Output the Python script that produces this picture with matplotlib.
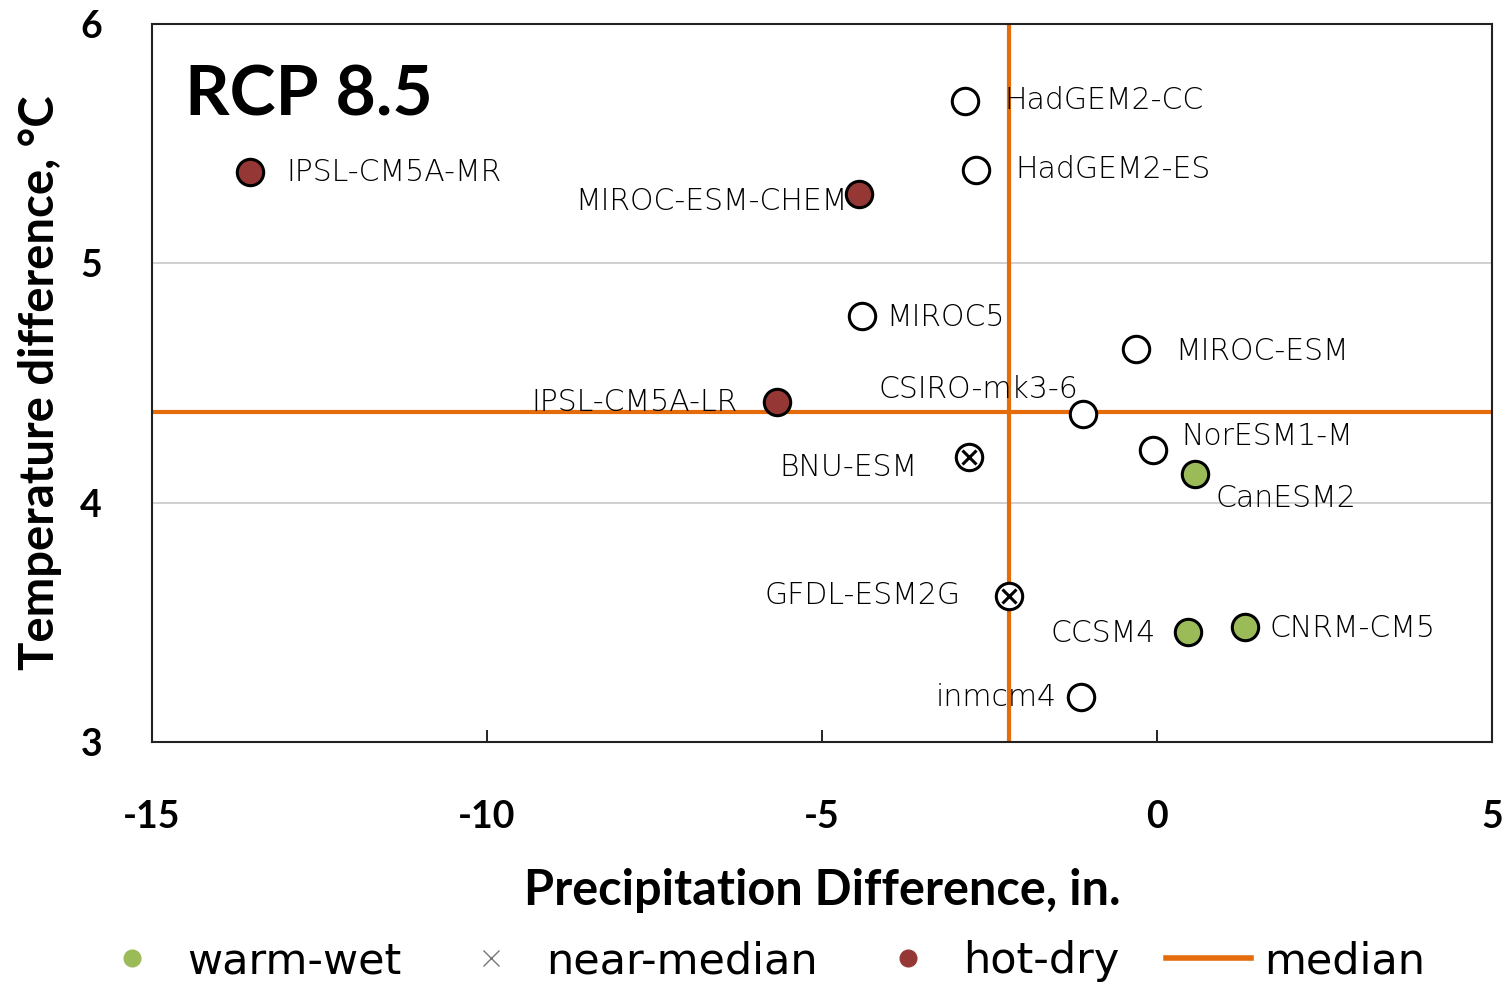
import matplotlib
matplotlib.use("Agg")
import matplotlib.pyplot as plt
from matplotlib.lines import Line2D

plt.rcParams['font.family'] = ['Lato', 'DejaVu Sans']

# model results: precipitation change (in.) and temperature change (degC)
models = ['IPSL-CM5A-MR', 'MIROC-ESM-CHEM', 'HadGEM2-CC', 'HadGEM2-ES', 'MIROC5',
          'MIROC-ESM', 'IPSL-CM5A-LR', 'CSIRO-mk3-6', 'NorESM1-M', 'CanESM2',
          'BNU-ESM', 'GFDL-ESM2G', 'CCSM4', 'CNRM-CM5', 'inmcm4']
precip = [-13.54, -4.45, -2.87, -2.70, -4.40, -0.31, -5.67, -1.10, -0.06, 0.57,
          -2.81, -2.21, 0.46, 1.31, -1.13]
temp = [5.38, 5.29, 5.68, 5.39, 4.78, 4.64, 4.42, 4.37, 4.22, 4.12,
        4.19, 3.61, 3.46, 3.48, 3.19]
group = ['hot-dry', 'hot-dry', 'other', 'other', 'other',
         'other', 'hot-dry', 'other', 'other', 'warm-wet',
         'near-median', 'near-median', 'warm-wet', 'warm-wet', 'other']
median_precip = -2.21
median_temp = 4.38

# label placement in pixels relative to each point: (dx, dy, ha)
label_pos = {
    'IPSL-CM5A-MR': (37, 0, 'left'),
    'MIROC-ESM-CHEM': (-11, -8, 'right'),
    'HadGEM2-CC': (40, 0, 'left'),
    'HadGEM2-ES': (39, 0, 'left'),
    'MIROC5': (24, -2, 'left'),
    'MIROC-ESM': (39, -2, 'left'),
    'IPSL-CM5A-LR': (-39, 0, 'right'),
    'CSIRO-mk3-6': (-5, 25, 'right'),
    'NorESM1-M': (28, 14, 'left'),
    'CanESM2': (20, -25, 'left'),
    'BNU-ESM': (-51, -10, 'right'),
    'GFDL-ESM2G': (-48, 0, 'right'),
    'CCSM4': (-32, -2, 'right'),
    'CNRM-CM5': (25, -1, 'left'),
    'inmcm4': (-25, -1, 'right'),
}

green = '#9BBB59'
red = '#953735'
orange = '#E46C0A'
face = {'hot-dry': red, 'warm-wet': green, 'other': 'white', 'near-median': 'white'}

fig = plt.figure(figsize=(15.09, 9.88), dpi=100)
ax = fig.add_axes([0.1007, 0.249, 0.888, 0.7267])

ax.axvline(median_precip, color=orange, lw=3, zorder=2)
ax.axhline(median_temp, color=orange, lw=3, zorder=2)

for name, x, y, g in zip(models, precip, temp, group):
    ax.plot(x, y, 'o', ms=19, mfc=face[g], mec='black', mew=2.2, zorder=4)
    if g == 'near-median':
        ax.plot(x, y, 'x', ms=10, mec='black', mew=2.2, zorder=5)
    dx, dy, ha = label_pos[name]
    ax.annotate(name, (x, y), xytext=(dx, dy), textcoords='offset pixels',
                ha=ha, va='center', fontsize=21.5, family='DejaVu Sans',
                fontweight='light', color='black', zorder=3)

ax.text(0.025, 0.873, 'RCP 8.5', transform=ax.transAxes, fontsize=50,
        fontweight='bold', va='baseline', ha='left')

ax.set_xlim(-15, 5)
ax.set_ylim(3, 6)
ax.set_xticks([-15, -10, -5, 0, 5])
ax.set_yticks([3, 4, 5, 6])
ax.set_yticklabels(['3', '4', '5', '6'])
ax.set_xticklabels(['-15', '-10', '-5', '0', '5'])
ax.grid(axis='y', color='#C8C8C8', lw=1.2, zorder=0)
ax.tick_params(axis='x', direction='in', length=9, width=1.2, pad=42,
               labelsize=27)
ax.tick_params(axis='y', length=0, pad=36, labelsize=27)
for lab in ax.get_xticklabels() + ax.get_yticklabels():
    lab.set_fontweight('bold')
for s in ax.spines.values():
    s.set_linewidth(1.5)
    s.set_color('#222222')

ax.set_xlabel('Precipitation Difference, in.', fontsize=35, fontweight='bold',
              labelpad=24)
ax.set_ylabel('Temperature difference, °C', fontsize=34, fontweight='bold',
              labelpad=13)

handles = [
    Line2D([], [], ls='none', marker='o', ms=12, mfc=green, mec=green),
    Line2D([], [], ls='none', marker='x', ms=12, mec='#777777', mew=1),
    Line2D([], [], ls='none', marker='o', ms=12, mfc=red, mec=red),
    Line2D([], [], color=orange, lw=4),
]
fig.legend(handles, ['warm-wet', 'near-median', 'hot-dry', 'median'],
           loc='center', bbox_to_anchor=(0.502, 0.027), ncol=4, frameon=False,
           prop={'family': 'DejaVu Sans', 'size': 31},
           handlelength=1.96, columnspacing=1.1, handletextpad=0.3)

fig.savefig('out.png', dpi=100)
